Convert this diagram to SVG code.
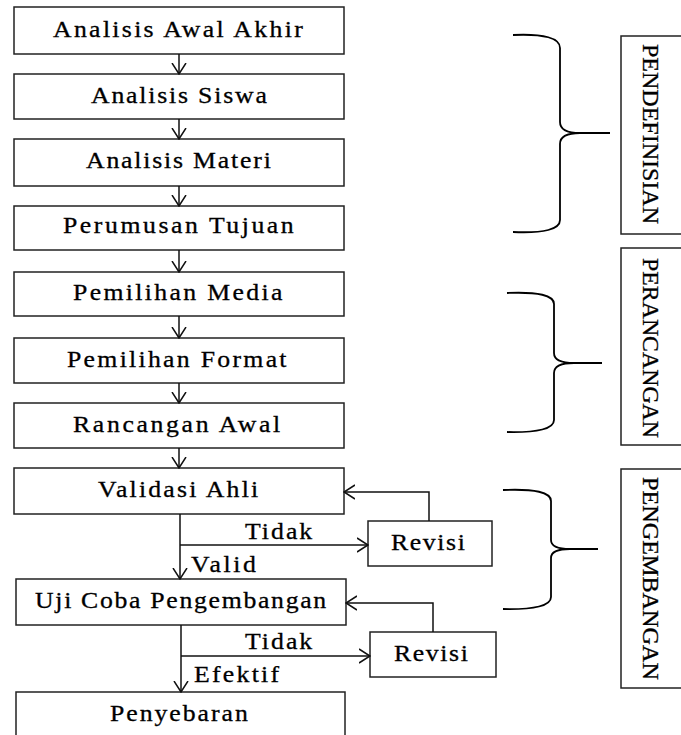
<svg xmlns="http://www.w3.org/2000/svg" width="681" height="735" viewBox="0 0 681 735">
<style>
.box{fill:#fff;stroke:#222;stroke-width:1.5}
.t{font-family:"Liberation Serif","Times New Roman",serif;font-size:23px;fill:#000;stroke:#000;stroke-width:0.3}
.v{font-family:"Liberation Serif","Times New Roman",serif;font-size:23px;fill:#000;stroke:#000;stroke-width:0.3}
.c{fill:none;stroke:#111;stroke-width:1.5}
.br{fill:none;stroke:#000;stroke-width:1.8}
</style>
<defs>
<marker id="ah" viewBox="0 0 12 16" refX="11" refY="8" markerWidth="12" markerHeight="16" markerUnits="userSpaceOnUse" orient="auto">
<path d="M0,1 L11,8 L0,15" fill="none" stroke="#111" stroke-width="1.5"/>
</marker>
</defs>
<rect width="681" height="735" fill="#fff"/>
<g id="n1"><rect class="box" x="14" y="7" width="330" height="47"/><text class="t" transform="translate(53,37) scale(1.12,1)" textLength="223">Analisis Awal Akhir</text></g>
<g id="n2"><rect class="box" x="14" y="74" width="330" height="45"/><text class="t" transform="translate(91,103) scale(1.12,1)" textLength="157">Analisis Siswa</text></g>
<g id="n3"><rect class="box" x="14" y="139" width="330" height="47"/><text class="t" transform="translate(86,168) scale(1.12,1)" textLength="165">Analisis Materi</text></g>
<g id="n4"><rect class="box" x="14" y="206" width="330" height="44"/><text class="t" transform="translate(63,233) scale(1.12,1)" textLength="206">Perumusan Tujuan</text></g>
<g id="n5"><rect class="box" x="14" y="272" width="330" height="44"/><text class="t" transform="translate(73,300) scale(1.12,1)" textLength="187">Pemilihan Media</text></g>
<g id="n6"><rect class="box" x="14" y="338" width="330" height="45"/><text class="t" transform="translate(67,367) scale(1.12,1)" textLength="196">Pemilihan Format</text></g>
<g id="n7"><rect class="box" x="14" y="403" width="330" height="45"/><text class="t" transform="translate(73,432) scale(1.12,1)" textLength="185">Rancangan Awal</text></g>
<g id="n8"><rect class="box" x="14" y="468" width="330" height="46"/><text class="t" transform="translate(98,497) scale(1.12,1)" textLength="143">Validasi Ahli</text></g>
<g id="n9"><rect class="box" x="16" y="579" width="330" height="46"/><text class="t" transform="translate(35,608) scale(1.12,1)" textLength="260">Uji Coba Pengembangan</text></g>
<g id="n10"><rect class="box" x="16" y="692" width="329" height="60"/><text class="t" transform="translate(110,721) scale(1.12,1)" textLength="123">Penyebaran</text></g>
<g id="r1"><rect class="box" x="368" y="521" width="124" height="45"/><text class="t" transform="translate(391,550) scale(1.12,1)" textLength="66">Revisi</text></g>
<g id="r2"><rect class="box" x="370" y="632" width="126" height="45"/><text class="t" transform="translate(394,661) scale(1.12,1)" textLength="66">Revisi</text></g>
<g id="l1"><rect class="box" x="621" y="36" width="70" height="198"/><text class="v" transform="translate(643,44) rotate(90)" textLength="180" lengthAdjust="spacingAndGlyphs">PENDEFINISIAN</text></g>
<g id="l2"><rect class="box" x="621" y="248" width="70" height="197"/><text class="v" transform="translate(643,258) rotate(90)" textLength="180" lengthAdjust="spacingAndGlyphs">PERANCANGAN</text></g>
<g id="l3"><rect class="box" x="621" y="469" width="70" height="219"/><text class="v" transform="translate(643,477) rotate(90)" textLength="203" lengthAdjust="spacingAndGlyphs">PENGEMBANGAN</text></g>
<g id="connectors">
<line class="c" x1="179" y1="54" x2="179" y2="74" marker-end="url(#ah)"/>
<line class="c" x1="179" y1="119" x2="179" y2="139" marker-end="url(#ah)"/>
<line class="c" x1="179" y1="186" x2="179" y2="206" marker-end="url(#ah)"/>
<line class="c" x1="179" y1="250" x2="179" y2="272" marker-end="url(#ah)"/>
<line class="c" x1="179" y1="316" x2="179" y2="338" marker-end="url(#ah)"/>
<line class="c" x1="179" y1="383" x2="179" y2="403" marker-end="url(#ah)"/>
<line class="c" x1="179" y1="448" x2="179" y2="468" marker-end="url(#ah)"/>
<line class="c" x1="180" y1="514" x2="180" y2="579" marker-end="url(#ah)"/>
<line class="c" x1="180" y1="545" x2="368" y2="545" marker-end="url(#ah)"/>
<polyline class="c" points="429,521 429,492 344,492" marker-end="url(#ah)"/>
<line class="c" x1="181" y1="625" x2="181" y2="692" marker-end="url(#ah)"/>
<line class="c" x1="181" y1="656" x2="370" y2="656" marker-end="url(#ah)"/>
<polyline class="c" points="433,632 433,603 346,603" marker-end="url(#ah)"/>
<text class="t" transform="translate(245,539) scale(1.12,1)" textLength="60">Tidak</text>
<text class="t" transform="translate(191,572) scale(1.12,1)" textLength="58">Valid</text>
<text class="t" transform="translate(245,649) scale(1.12,1)" textLength="60">Tidak</text>
<text class="t" transform="translate(194,682) scale(1.12,1)" textLength="76">Efektif</text>
</g>
<g id="braces">
<path class="br" d="M513,35 Q560,33 560,48 L560,122 Q560,133 580,133 L610,133 M580,133 Q560,133 560,144 L560,220 Q560,234 513,232"/>
<path class="br" d="M507,293 Q554,291 554,304 L554,353 Q554,363 574,363 L602,363 M574,363 Q554,363 554,373 L554,420 Q554,433 507,432"/>
<path class="br" d="M503,490 Q551,488 551,501 L551,540 Q551,549 570,549 L598,549 M570,549 Q551,549 551,558 L551,597 Q551,610 503,609"/>
</g>
</svg>
